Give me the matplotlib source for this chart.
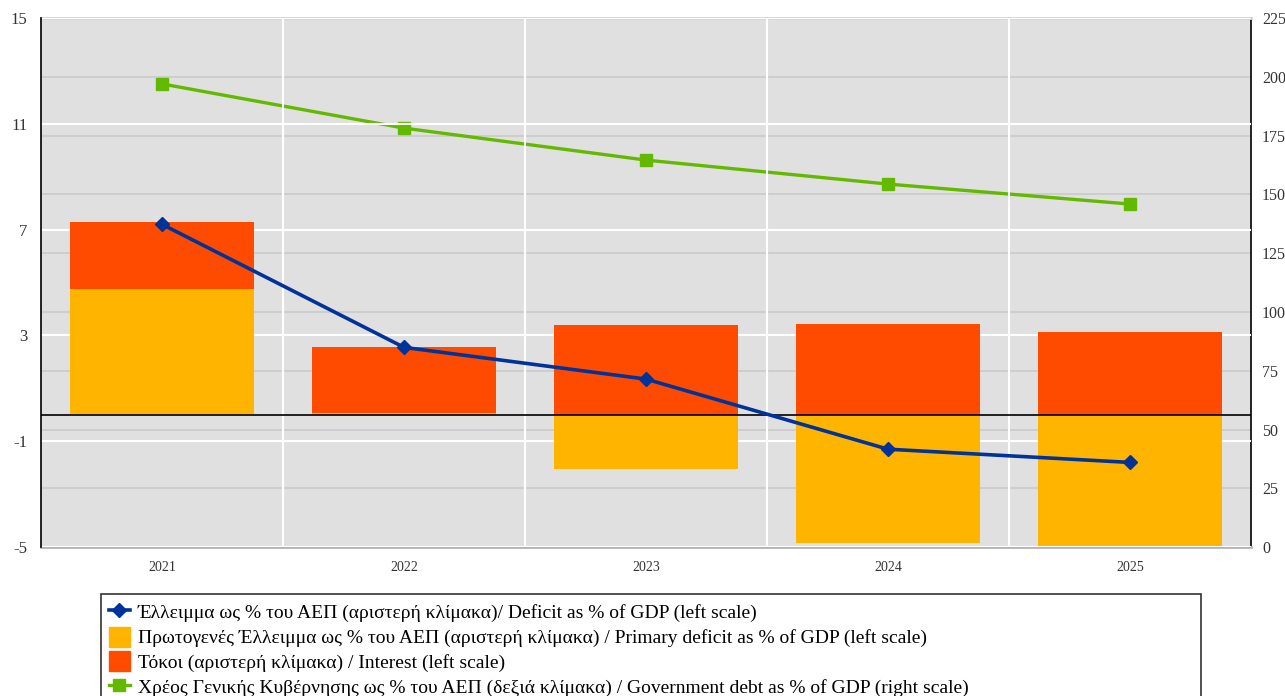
import numpy as np
import matplotlib
matplotlib.use('Agg')
import matplotlib.pyplot as plt
from matplotlib.lines import Line2D
from matplotlib.patches import Patch

plt.rcParams['font.family'] = ['Liberation Serif', 'DejaVu Serif']
plt.rcParams['axes.unicode_minus'] = False

years = ['2021', '2022', '2023', '2024', '2025']
primary = [4.75, 0.05, -2.05, -4.85, -4.95]
interest = [2.55, 2.5, 3.4, 3.45, 3.15]
deficit = [7.2, 2.55, 1.35, -1.3, -1.8]
debt = [197.0, 178.2, 164.6, 154.4, 145.9]

left_ticks = [-5, -1, 3, 7, 11, 15]
right_ticks = [0, 25, 50, 75, 100, 125, 150, 175, 200, 225]

labels = [
    'Έλλειμμα ως % του ΑΕΠ (αριστερή κλίμακα)/ Deficit as % of GDP (left scale)',
    'Πρωτογενές Έλλειμμα ως % του ΑΕΠ (αριστερή κλίμακα) / Primary deficit as % of GDP (left scale)',
    'Τόκοι (αριστερή κλίμακα) / Interest (left scale)',
    'Χρέος Γενικής Κυβέρνησης ως % του ΑΕΠ (δεξιά κλίμακα) / Government debt as % of GDP (right scale)',
]

c_primary = '#FFB400'
c_interest = '#FF4B00'
c_deficit = '#00339A'
c_debt = '#63B800'
c_text = '#333333'

fig = plt.figure(figsize=(12.85, 6.96), dpi=100)
ax = fig.add_axes([0.032, 0.214, 0.9415, 0.76])
ax2 = ax.twinx()
# right axis (gray grid + background) sits behind the bars
ax.set_zorder(ax2.get_zorder() + 1)
ax.patch.set_visible(False)
ax2.patch.set_visible(True)
ax2.patch.set_facecolor('#E0E0E0')

x = np.arange(len(years))
w = 0.76
prim = np.array(primary)
inte = np.array(interest)
ax.bar(x, prim, w, color=c_primary, zorder=2)
ax.bar(x, inte, w, bottom=np.where(prim > 0, prim, 0), color=c_interest, zorder=2)
ax.axhline(0, color='black', lw=1.2, zorder=3)
ax.plot(x, deficit, color=c_deficit, lw=2.6, marker='D', ms=7, zorder=4)
ax2.plot(x, debt, color=c_debt, lw=2.4, marker='s', ms=9, zorder=4)

ax.set_xlim(-0.5, len(years) - 0.5)
ax.set_ylim(-5, 15)
ax.set_yticks(left_ticks)
ax2.set_ylim(0, 225)
ax2.set_yticks(right_ticks)
ax.set_xticks(x)
ax.set_xticklabels(years)
ax.set_xticks(x[:-1] + 0.5, minor=True)

ax.grid(axis='y', color='white', lw=1.5)
ax.grid(axis='x', which='minor', color='white', lw=1.5)
ax.set_axisbelow(True)
ax2.grid(axis='y', color='#CCCCCC', lw=1.3)

ax.tick_params(axis='both', which='both', length=0, labelcolor=c_text)
ax.tick_params(axis='y', pad=10, labelsize=12)
ax.tick_params(axis='x', pad=10, labelsize=10)
ax2.tick_params(axis='y', length=0, labelsize=11.5, labelcolor=c_text, pad=8)

for a in (ax, ax2):
    for s in a.spines.values():
        s.set_visible(False)
ax.spines['left'].set_visible(True)
ax.spines['left'].set_color('black')
ax.spines['left'].set_linewidth(1.2)
ax2.spines['right'].set_visible(True)
ax2.spines['right'].set_color('black')
ax2.spines['right'].set_linewidth(1.2)
ax2.spines['bottom'].set_visible(True)
ax2.spines['bottom'].set_color('#B4B4B4')
ax2.spines['bottom'].set_linewidth(2)
ax2.spines['top'].set_visible(True)
ax2.spines['top'].set_color('#D4D4D4')
ax2.spines['top'].set_linewidth(2)

handles = [
    Line2D([], [], color=c_deficit, lw=2.6, marker='D', ms=7),
    Patch(color=c_primary),
    Patch(color=c_interest),
    Line2D([], [], color=c_debt, lw=2.4, marker='s', ms=9),
]
leg = fig.legend(handles, labels, loc='upper left',
                 bbox_to_anchor=(101 / 1285, 1 - 594 / 696, 1100 / 1285, 0.0001),
                 mode='expand', fontsize=14, frameon=True, fancybox=False,
                 edgecolor='black', handlelength=1.1, handleheight=1.2,
                 handletextpad=0.4, labelspacing=0.22, borderpad=0.4,
                 borderaxespad=0)
leg.get_frame().set_linewidth(1.2)

fig.savefig('out.png', dpi=100)
